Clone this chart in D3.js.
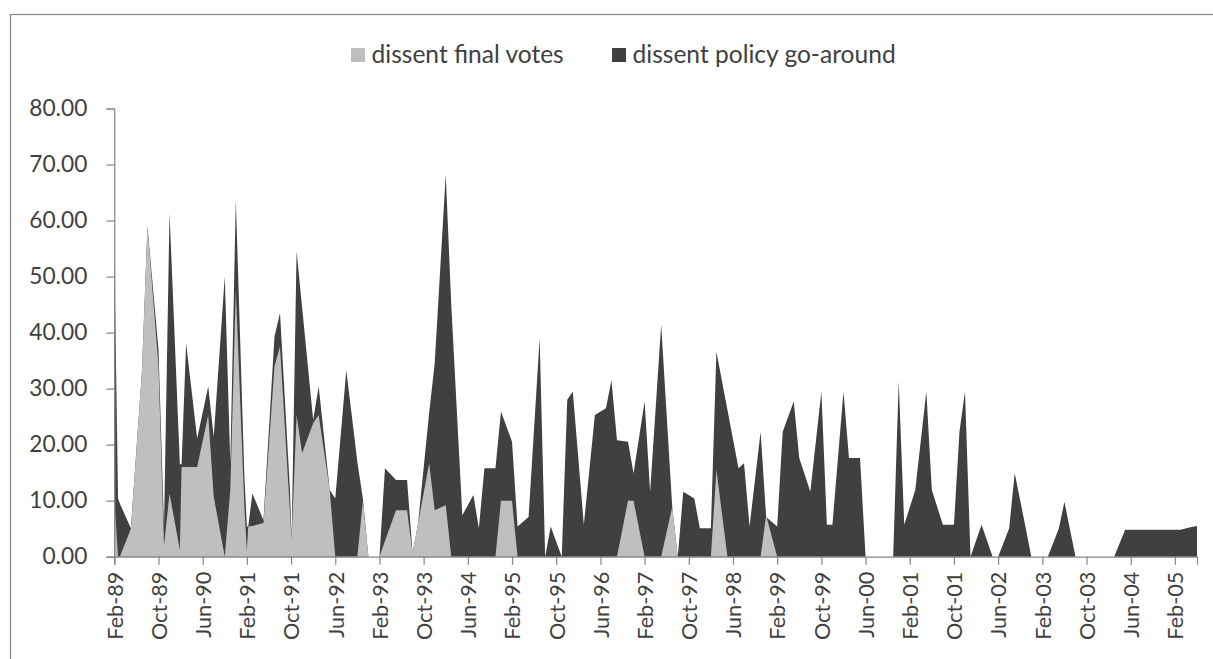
<!DOCTYPE html>
<html><head><meta charset="utf-8">
<script src="https://cdn.jsdelivr.net/npm/d3@7"></script>
<style>html,body{margin:0;padding:0;background:#fff}svg{display:block}</style>
</head><body>
<svg id="chart" width="1213" height="659"></svg>
<script>
// FOMC meeting dates (points of both series)
const meetingDates = [
"1989-02-01","1989-02-20","1989-03-01","1989-05-01","1989-07-01","1989-08-01","1989-10-01","1989-11-01","1989-12-01",
"1990-01-28","1990-02-06","1990-03-01","1990-05-01","1990-07-01","1990-08-01","1990-10-01","1990-11-01","1990-12-01",
"1991-01-18","1991-02-01","1991-02-08","1991-03-01","1991-05-01","1991-07-01","1991-08-01","1991-09-25","1991-10-04","1991-11-01","1991-12-01",
"1992-02-01","1992-03-01","1992-05-01","1992-06-01","1992-08-01","1992-10-01","1992-11-01","1992-12-01",
"1993-02-01","1993-03-01","1993-05-01","1993-07-01","1993-08-01","1993-09-01","1993-11-01","1993-12-01",
"1994-02-01","1994-03-01","1994-05-01","1994-07-01","1994-08-01","1994-09-01","1994-11-01","1994-12-01",
"1995-02-01","1995-03-01","1995-05-01","1995-07-01","1995-08-01","1995-09-01","1995-11-01","1995-12-01",
"1996-01-01","1996-03-01","1996-05-01","1996-07-01","1996-08-01","1996-09-01","1996-11-01","1996-12-01",
"1997-02-01","1997-03-01","1997-05-01","1997-07-01","1997-08-01","1997-09-01","1997-11-01","1997-12-01",
"1998-02-01","1998-03-01","1998-05-01","1998-07-01","1998-08-01","1998-09-01","1998-11-01","1998-12-01",
"1999-02-01","1999-03-01","1999-05-01","1999-06-01","1999-08-01","1999-10-01","1999-11-01","1999-12-01",
"2000-02-01","2000-03-01","2000-05-01","2000-06-01","2000-08-01","2000-10-01","2000-11-01","2000-12-01",
"2001-01-01","2001-03-01","2001-05-01","2001-06-01","2001-08-01","2001-10-01","2001-11-01","2001-12-01",
"2002-01-01","2002-03-01","2002-05-01","2002-06-01","2002-08-01","2002-09-01","2002-11-01","2002-12-01",
"2003-01-01","2003-03-01","2003-05-01","2003-06-01","2003-08-01","2003-09-01","2003-10-01","2003-12-01",
"2004-01-01","2004-03-01","2004-05-01","2004-06-01","2004-08-01","2004-09-01","2004-11-01","2004-12-01",
"2005-02-01","2005-03-01","2005-05-01","2005-06-01"
];
// dissent final votes (light grey)
const dissentFinalVotes = [
10.4,0,0,5,33,59,34,2,11.3,
1.2,16,16,16,25.3,10.7,0,12,47.6,
9,1,5.4,5.5,6,34,37.5,8,3,25.3,18.5,
23.8,25.3,11.9,0,0,0,10,0,
0,2.8,8.3,8.3,0.6,6,16.7,8.3,
9.2,0,0,0,0,0,0,10,
10,0,0,0,0,0,0,0,
0,0,0,0,0,0,10,10,
0,0,0,8.9,0,0,0,0,
0,15.5,0,0,0,0,0,7.4,
0,0,0,0,0,0,0,0,
0,0,0,0,0,0,0,0,
0,0,0,0,0,0,0,0,
0,0,0,0,0,0,0,0,
0,0,0,0,0,0,0,0,
0,0,0,0,0,0,0,0,
0,0,0,0
];
// dissent policy go-around (dark grey)
const dissentPolicyGoAround = [
55,10.4,9.5,5.1,33,59,37,5.4,61.3,
16.5,16.5,38.1,21.1,30.4,21.4,50,16.7,63.7,
14.3,5.4,5.4,11.3,6.5,39.3,43.5,11.9,3,54.5,44.5,
24.4,30.4,11.9,10.4,33.3,16.9,10.4,0,
0,15.8,13.7,13.7,0.6,6,25.7,34.5,
68.2,45,7.4,11,5.1,15.8,15.8,25.9,
20.5,5.4,7.1,39,0,5.4,0,28,
29.5,5.7,25.3,26.5,31.5,20.8,20.5,14.9,
27.7,11.6,41.4,8.9,0,11.6,10.4,5.1,
5.1,36.6,26.2,15.8,16.7,5.4,22.3,7.1,
5.4,22.3,27.7,17.6,11.6,29.5,5.7,5.7,
29.5,17.6,17.6,0,0,0,0,31.3,
5.7,11.9,29.5,11.9,5.7,5.7,22.3,29.5,
0,5.7,0,0,5.1,14.9,5.1,0,
0,0,5.1,9.8,0,0,0,0,
0,0,4.8,4.8,4.8,4.8,4.8,4.8,
4.8,4.8,5.3,5.5
];
const xTickLabels = ["Feb-89","Oct-89","Jun-90","Feb-91","Oct-91","Jun-92","Feb-93","Oct-93","Jun-94","Feb-95","Oct-95","Jun-96","Feb-97","Oct-97","Jun-98","Feb-99","Oct-99","Jun-00","Feb-01","Oct-01","Jun-02","Feb-03","Oct-03","Jun-04","Feb-05"];
const xDomainLabels = ["Feb-89","Jun-05"];
const yTickValues = [0,10,20,30,40,50,60,70,80];
const seriesNames = ["dissent final votes","dissent policy go-around"];
const seriesColors = ["#bfbfbf","#404040"];

const svg = d3.select("#chart");
const plot = {left:114.3, right:1197, top:108.5, bottom:556.7};
const FONT = "Lato, 'Open Sans', sans-serif";
const textColor = "#404040";
const axisColor = "#868686";

// size a font so that a sample string reaches a target width
function fitSize(sample, targetWidth){
  const t = svg.append("text").style("font-family",FONT).style("font-size","100px").text(sample);
  const w = t.node().getComputedTextLength();
  t.remove();
  return 100*targetWidth/w;
}
const ySize = fitSize("80.00", 58);
const xSize = fitSize("Feb-89", 68);
const legSize = fitSize(seriesNames[0]+seriesNames[1], 192.5+263);

// month index since the base month
const parseDay = d3.timeParse("%Y-%m-%d");
const parseLabel = d3.timeParse("%b-%y");
const base = parseLabel(xDomainLabels[0]);
function monthIndex(d){
  const mi = (d.getFullYear()-base.getFullYear())*12 + (d.getMonth()-base.getMonth());
  const dim = new Date(d.getFullYear(), d.getMonth()+1, 0).getDate();
  return mi + (d.getDate()-1)/dim;
}
const x = d3.scaleLinear()
  .domain([0, monthIndex(parseLabel(xDomainLabels[1]))])
  .range([plot.left, plot.right]);
const y = d3.scaleLinear().domain([0,80]).range([plot.bottom, plot.top]);

const rows = meetingDates.map((s,i)=>({m:monthIndex(parseDay(s)), a:dissentFinalVotes[i], b:dissentPolicyGoAround[i]}));

// frame
svg.append("rect").attr("x",10.5).attr("y",14.5).attr("width",1400).attr("height",900)
  .attr("fill","none").attr("stroke",axisColor).attr("stroke-width",1.2);

// areas: policy go-around behind, final votes in front
const areaB = d3.area().x(d=>x(d.m)).y0(y(0)).y1(d=>y(d.b));
const areaA = d3.area().x(d=>x(d.m)).y0(y(0)).y1(d=>y(d.a));
svg.append("path").datum(rows).attr("d",areaB).attr("fill",seriesColors[1]);
svg.append("path").datum(rows).attr("d",areaA).attr("fill",seriesColors[0]);

// y axis
const yAxis = d3.axisLeft(y).tickValues(yTickValues).tickSize(8).tickPadding(19)
  .tickFormat(d3.format(".2f"));
const gy = svg.append("g").attr("transform",`translate(${plot.left},0)`).call(yAxis);
gy.select(".domain").attr("stroke",axisColor).attr("stroke-width",1.2);
gy.selectAll(".tick line").attr("stroke",axisColor).attr("stroke-width",1.2);
gy.selectAll(".tick text").attr("fill",textColor).style("font-family",FONT).style("font-size",ySize+"px");

// x axis
const xTickPos = xTickLabels.map(l=>monthIndex(parseLabel(l)));
const xAxis = d3.axisBottom(x).tickValues(xTickPos).tickSize(8).tickFormat((d,i)=>xTickLabels[i]);
const gx = svg.append("g").attr("transform",`translate(0,${plot.bottom})`).call(xAxis);
gx.select(".domain").attr("stroke",axisColor).attr("stroke-width",1.2);
gx.selectAll(".tick line").attr("stroke",axisColor).attr("stroke-width",1.2);
gx.selectAll(".tick text").attr("fill",textColor).style("font-family",FONT).style("font-size",xSize+"px")
  .attr("text-anchor","end").attr("transform","rotate(-90)")
  .attr("x",-15).attr("y",0).attr("dy","0.36em");

// legend
const legend = svg.append("g").style("font-family",FONT).style("font-size",legSize+"px");
const legendItems = [{box:351, text:371.5},{box:612, text:632.5}];
seriesNames.forEach((n,i)=>{
  const g = legend.append("g");
  g.append("rect").attr("x",legendItems[i].box).attr("y",48).attr("width",14).attr("height",14).attr("fill",seriesColors[i]);
  g.append("text").attr("x",legendItems[i].text).attr("y",55).attr("dy","0.34em").attr("fill",textColor).text(n);
});
</script>
</body></html>
